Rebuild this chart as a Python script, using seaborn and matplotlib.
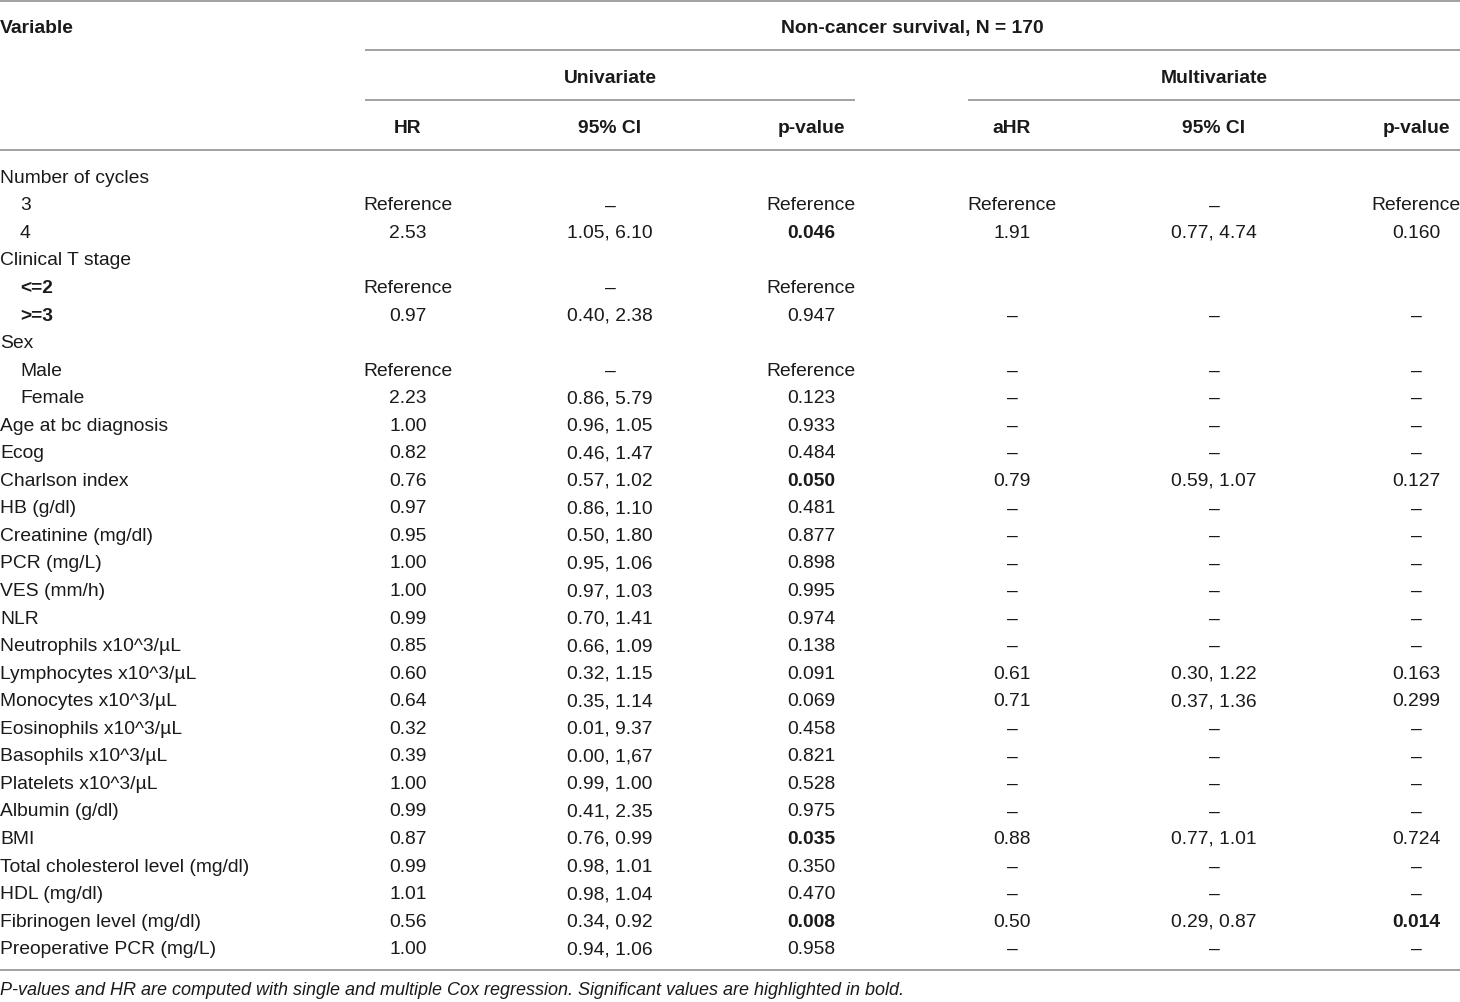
import matplotlib
matplotlib.use("Agg")
import matplotlib.pyplot as plt
import seaborn as sns
from matplotlib import font_manager

labels = ["Number of cycles", "3", "4", "Clinical T stage", "<=2", ">=3", "Sex",
          "Male", "Female", "Age at bc diagnosis", "Ecog", "Charlson index",
          "HB (g/dl)", "Creatinine (mg/dl)", "PCR (mg/L)", "VES (mm/h)", "NLR",
          "Neutrophils x10^3/µL", "Lymphocytes x10^3/µL", "Monocytes x10^3/µL",
          "Eosinophils x10^3/µL", "Basophils x10^3/µL", "Platelets x10^3/µL",
          "Albumin (g/dl)", "BMI", "Total cholesterol level (mg/dl)", "HDL (mg/dl)",
          "Fibrinogen level (mg/dl)", "Preoperative PCR (mg/L)"]
indented = ["3", "4", "<=2", ">=3", "Male", "Female"]
bold_labels = ["<=2", ">=3"]

uni_hr = ["", "Reference", "2.53", "", "Reference", "0.97", "", "Reference", "2.23",
          "1.00", "0.82", "0.76", "0.97", "0.95", "1.00", "1.00", "0.99", "0.85",
          "0.60", "0.64", "0.32", "0.39", "1.00", "0.99", "0.87", "0.99", "1.01",
          "0.56", "1.00"]
uni_ci = ["", "–", "1.05, 6.10", "", "–", "0.40, 2.38", "", "–", "0.86, 5.79",
          "0.96, 1.05", "0.46, 1.47", "0.57, 1.02", "0.86, 1.10", "0.50, 1.80",
          "0.95, 1.06", "0.97, 1.03", "0.70, 1.41", "0.66, 1.09", "0.32, 1.15",
          "0.35, 1.14", "0.01, 9.37", "0.00, 1,67", "0.99, 1.00", "0.41, 2.35",
          "0.76, 0.99", "0.98, 1.01", "0.98, 1.04", "0.34, 0.92", "0.94, 1.06"]
uni_p = ["", "Reference", "0.046", "", "Reference", "0.947", "", "Reference", "0.123",
         "0.933", "0.484", "0.050", "0.481", "0.877", "0.898", "0.995", "0.974",
         "0.138", "0.091", "0.069", "0.458", "0.821", "0.528", "0.975", "0.035",
         "0.350", "0.470", "0.008", "0.958"]
multi_hr = ["", "Reference", "1.91", "", "", "–", "", "–", "–", "–", "–", "0.79", "–",
            "–", "–", "–", "–", "–", "0.61", "0.71", "–", "–", "–", "–", "0.88", "–",
            "–", "0.50", "–"]
multi_ci = ["", "–", "0.77, 4.74", "", "", "–", "", "–", "–", "–", "–", "0.59, 1.07",
            "–", "–", "–", "–", "–", "–", "0.30, 1.22", "0.37, 1.36", "–", "–", "–",
            "–", "0.77, 1.01", "–", "–", "0.29, 0.87", "–"]
multi_p = ["", "Reference", "0.160", "", "", "–", "", "–", "–", "–", "–", "0.127", "–",
           "–", "–", "–", "–", "–", "0.163", "0.299", "–", "–", "–", "–", "0.724", "–",
           "–", "0.014", "–"]
significant = ["0.046", "0.050", "0.035", "0.008", "0.014"]

col_headers = ["HR", "95% CI", "p-value", "aHR", "95% CI", "p-value"]
title = "Non-cancer survival, N = 170"
groups = ["Univariate", "Multivariate"]
footnote = ("P-values and HR are computed with single and multiple Cox regression. "
            "Significant values are highlighted in bold.")

# --- style ---
sns.set_theme(style="white")
installed = {f.name for f in font_manager.fontManager.ttflist}
family = [f for f in ["Liberation Sans Narrow", "Liberation Sans", "DejaVu Sans"] if f in installed]
plt.rcParams["font.family"] = family

W, H = 1460, 1002
fig = plt.figure(figsize=(W / 100, H / 100), dpi=100)
ax = fig.add_axes([0, 0, 1, 1])
ax.set_xlim(0, W)
ax.set_ylim(H, 0)
ax.axis("off")

fs = 13.9
fs_note = 13.0
txt = "#1a1a1a"
rule = "#9a9a9a"
col_x = [408, 610, 811, 1012, 1214, 1416]
row0, dy = 176, 27.55
base_off = 6.8  # row centre -> text baseline

def hline(y, x0, x1):
    ax.plot([x0, x1], [y, y], color=rule, lw=1.3, solid_capstyle="butt")

def put(x, y, s, ha="center", bold=False, size=fs, **kw):
    ax.text(x, y + base_off * size / fs, s, fontsize=size, va="baseline", ha=ha,
            color=txt, fontweight="bold" if bold else "normal", **kw)

# header
hline(1, 0, W)
put(0, 26, "Variable", ha="left", bold=True)
put(912, 26, title, bold=True)
hline(50, 365, W)
put(610, 76, groups[0], bold=True)
put(1214, 76, groups[1], bold=True)
hline(100, 365, 855)
hline(100, 968, W)
for x, h in zip(col_x, col_headers):
    put(x, 126, h, bold=True)
hline(150, 0, W)

# body
columns = [uni_hr, uni_ci, uni_p, multi_hr, multi_ci, multi_p]
for i, lab in enumerate(labels):
    y = row0 + i * dy
    put(20 if lab in indented else 0, y, lab, ha="left", bold=lab in bold_labels)
    for cx, col in zip(col_x, columns):
        v = col[i]
        if not v:
            continue
        put(cx, y, v, bold=(v in significant and col in (uni_p, multi_p)))

hline(970, 0, W)
put(0, 989, footnote, ha="left", size=fs_note, style="italic")

fig.savefig("out.png", dpi=100)
